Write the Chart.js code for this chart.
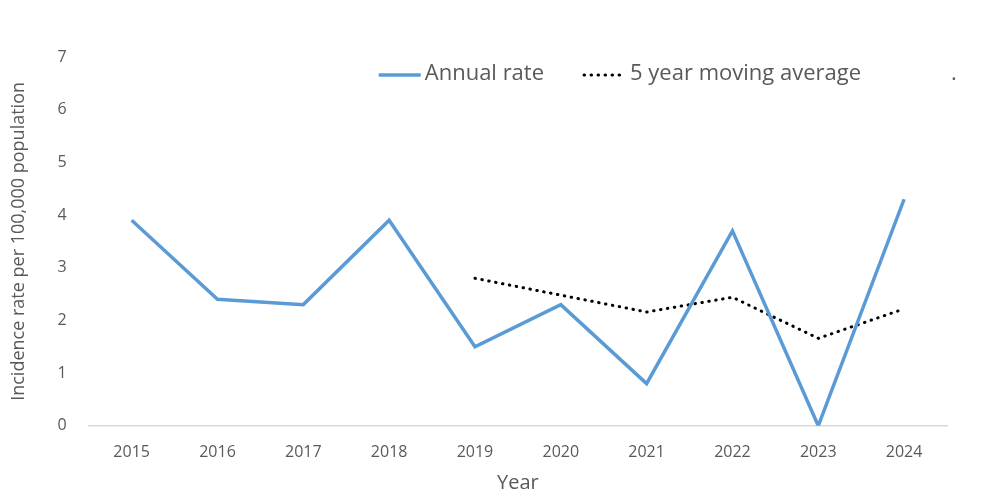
<!DOCTYPE html>
<html>
<head>
<meta charset="utf-8">
<script src="https://cdn.jsdelivr.net/npm/chart.js@4.4.1/dist/chart.umd.min.js"></script>
<style>
  html, body { margin: 0; padding: 0; background: #fff; }
  #wrap { width: 1000px; height: 499px; }
</style>
</head>
<body>
<div id="wrap"><canvas id="rateChart"></canvas></div>
<script>
// values
const years = ["2015", "2016", "2017", "2018", "2019", "2020", "2021", "2022", "2023", "2024"];
const annualRate = [3.9, 2.4, 2.3, 3.9, 1.5, 2.3, 0.8, 3.7, 0, 4.3];
const movingAverage = [null, null, null, null, 2.8, 2.48, 2.16, 2.44, 1.66, 2.22];
const yTicks = [0, 1, 2, 3, 4, 5, 6, 7];

const textColor = "#595959";
const fontFamily = "'Open Sans', 'Noto Sans', sans-serif";

// Excel-style legend drawn inside the plot area
const insideLegend = {
  id: "insideLegend",
  afterDraw(chart) {
    const ctx = chart.ctx;
    const area = chart.chartArea;
    const y = area.top + 18;
    let x = area.left + 290;
    ctx.save();
    ctx.font = "22px " + fontFamily;
    ctx.textBaseline = "middle";
    chart.data.datasets.forEach((ds, i) => {
      if (ds.borderColor !== "transparent") {
        ctx.beginPath();
        ctx.strokeStyle = ds.borderColor;
        ctx.lineWidth = ds.borderWidth;
        ctx.lineCap = ds.borderCapStyle || "butt";
        ctx.setLineDash(ds.borderDash || []);
        ctx.moveTo(x, y);
        ctx.lineTo(x + 42, y);
        ctx.stroke();
        x += 46;
      }
      ctx.setLineDash([]);
      ctx.fillStyle = textColor;
      ctx.fillText(ds.label, x, y - 1);
      x += ctx.measureText(ds.label).width + (i === 1 ? 90 : 40);
    });
    ctx.restore();
  }
};

function renderRateChart() {
  const ctx = document.getElementById("rateChart").getContext("2d");

  new Chart(ctx, {
    type: "line",
    data: {
      labels: years,
      datasets: [
        {
          label: "Annual rate",
          data: annualRate,
          borderColor: "#5B9BD5",
          borderWidth: 3.5,
          pointRadius: 0,
          tension: 0
        },
        {
          label: "5 year moving average",
          data: movingAverage,
          borderColor: "#000000",
          borderWidth: 3,
          borderDash: [0.5, 6.5],
          borderCapStyle: "round",
          pointRadius: 0,
          tension: 0
        },
        {
          label: ".",
          data: [],
          borderColor: "transparent",
          pointRadius: 0
        }
      ]
    },
    options: {
      responsive: true,
      maintainAspectRatio: false,
      animation: false,
      layout: { padding: { top: 57, right: 53, bottom: 6, left: 8 } },
      plugins: {
        legend: { display: false },
        tooltip: { enabled: false }
      },
      scales: {
        x: {
          offset: true,
          grid: { display: false },
          border: { color: "#d9d9d9", width: 1.5 },
          ticks: { color: textColor, font: { family: fontFamily, size: 16 }, padding: 9 },
          title: {
            display: true,
            text: "Year",
            color: textColor,
            font: { family: fontFamily, size: 20, lineHeight: 1 },
            padding: { top: 2, bottom: 0 }
          }
        },
        y: {
          min: 0,
          max: 7,
          afterBuildTicks: axis => { axis.ticks = yTicks.map(v => ({ value: v })); },
          grid: { display: false },
          border: { display: false },
          ticks: { color: textColor, font: { family: fontFamily, size: 16 }, padding: 14 },
          title: {
            display: true,
            text: "Incidence rate per 100,000 population",
            color: textColor,
            font: { family: fontFamily, size: 18 },
            padding: { top: 0, bottom: 14 }
          }
        }
      }
    },
    plugins: [insideLegend]
  });
}

document.addEventListener("DOMContentLoaded", renderRateChart);
</script>
</body>
</html>
